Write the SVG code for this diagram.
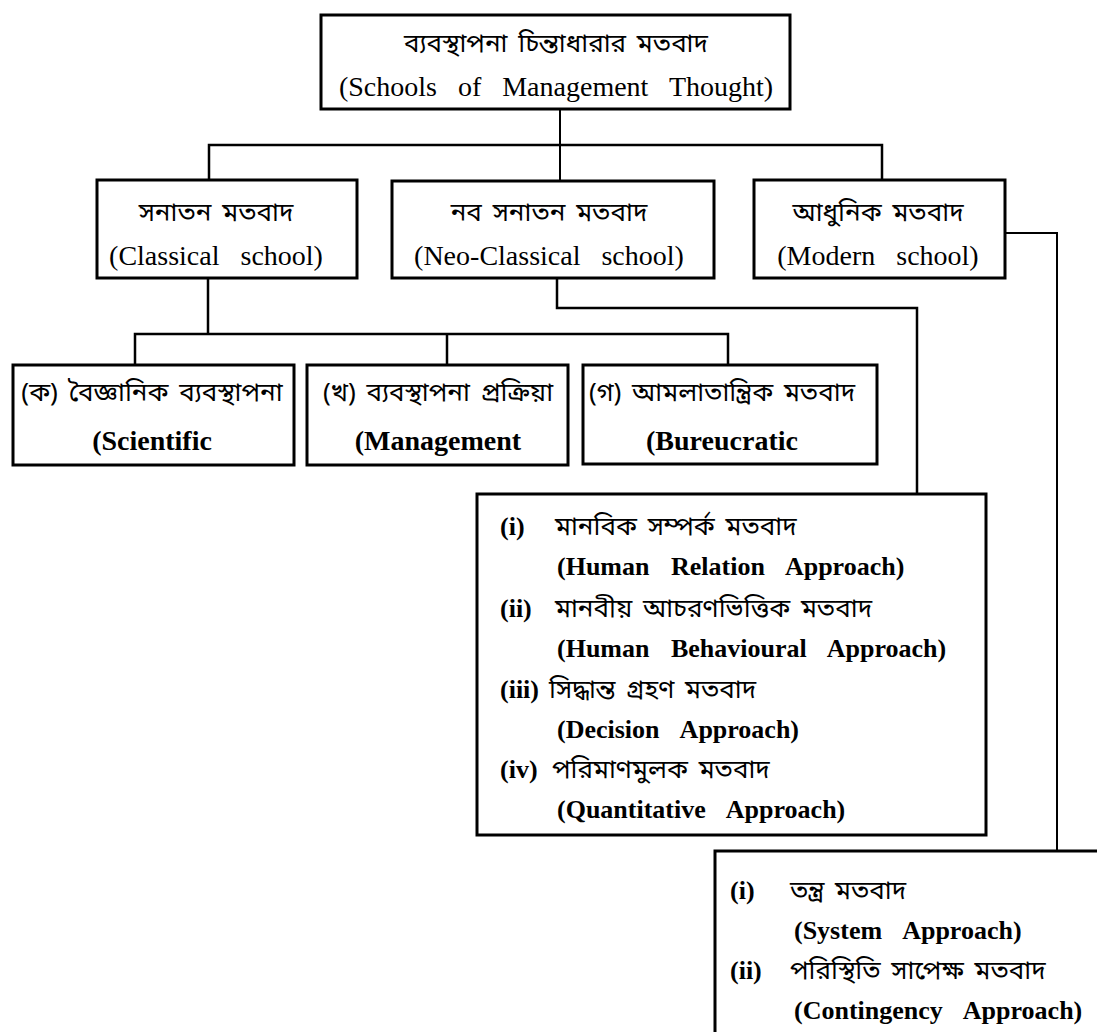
<svg xmlns="http://www.w3.org/2000/svg" width="1097" height="1032" viewBox="0 0 1097 1032">
<style>
.box{fill:#fff;stroke:#000;stroke-width:3}
.con{fill:none;stroke:#000;stroke-width:2.5;stroke-linejoin:miter}
.thin{stroke-width:2}
.bn{font-family:"Noto Sans Bengali","Noto Serif Bengali","Lohit Bengali","FreeSerif","Liberation Serif",serif;font-size:26px;word-spacing:4px;fill:#000}
.en{font-family:"Liberation Serif","Times New Roman",serif;font-size:28px;word-spacing:14px;fill:#000}
.b{font-weight:bold}
.ls{font-family:"Liberation Serif","Times New Roman",serif;font-size:26px;font-weight:bold;word-spacing:15px;fill:#000}
.m{text-anchor:middle}
</style>
<rect width="1097" height="1032" fill="#fff"/>
<g id="connectors">
<polyline class="con thin" points="560,109 560,181"/>
<polyline class="con" points="209,180 209,145 882,145 882,180"/>
<polyline class="con" points="208,278 208,334"/>
<polyline class="con" points="135,365 135,334 728,334 728,365"/>
<polyline class="con" points="447,334 447,365"/>
<polyline class="con" points="557,278 557,308 917,308 917,494"/>
<polyline class="con thin" points="1005,233 1057,233 1057,851"/>
</g>
<g id="root">
<rect class="box" x="321" y="15" width="469" height="94"/>
<text class="bn m" x="556" y="52">ব্যবস্থাপনা চিন্তাধারার মতবাদ</text>
<text class="en m" x="556" y="96">(Schools of Management Thought)</text>
</g>
<g id="classical">
<rect class="box" x="97" y="180" width="260" height="98"/>
<text class="bn m" x="216" y="221">সনাতন মতবাদ</text>
<text class="en m" x="216" y="265">(Classical school)</text>
</g>
<g id="neoclassical">
<rect class="box" x="392" y="181" width="322" height="97"/>
<text class="bn m" x="549" y="221">নব সনাতন মতবাদ</text>
<text class="en m" x="549" y="265">(Neo-Classical school)</text>
</g>
<g id="modern">
<rect class="box" x="754" y="180" width="251" height="98"/>
<text class="bn m" x="878" y="221">আধুনিক মতবাদ</text>
<text class="en m" x="878" y="265">(Modern school)</text>
</g>
<g id="scientific">
<rect class="box" x="13" y="365" width="281" height="100"/>
<text class="bn m" x="152" y="401">(ক) বৈজ্ঞানিক ব্যবস্থাপনা</text>
<text class="en b m" x="152" y="450">(Scientific</text>
</g>
<g id="process">
<rect class="box" x="307" y="365" width="261" height="100"/>
<text class="bn m" x="438" y="401">(খ) ব্যবস্থাপনা প্রক্রিয়া</text>
<text class="en b m" x="438" y="450">(Management</text>
</g>
<g id="bureaucratic">
<rect class="box" x="583" y="365" width="294" height="99"/>
<text class="bn m" x="722" y="401">(গ) আমলাতান্ত্রিক মতবাদ</text>
<text class="en b m" x="722" y="450">(Bureucratic</text>
</g>
<g id="neo-list">
<rect class="box" x="477" y="494" width="509" height="341"/>
<text class="ls" x="500" y="535">(i)</text>
<text class="bn" x="555" y="535">মানবিক সম্পর্ক মতবাদ</text>
<text class="ls" x="557" y="575">(Human Relation Approach)</text>
<text class="ls" x="500" y="617">(ii)</text>
<text class="bn" x="555" y="617">মানবীয় আচরণভিত্তিক মতবাদ</text>
<text class="ls" x="557" y="657">(Human Behavioural Approach)</text>
<text class="ls" x="500" y="698">(iii)</text>
<text class="bn" x="549" y="698">সিদ্ধান্ত গ্রহণ মতবাদ</text>
<text class="ls" x="557" y="738">(Decision Approach)</text>
<text class="ls" x="500" y="778">(iv)</text>
<text class="bn" x="552" y="778">পরিমাণমুলক মতবাদ</text>
<text class="ls" x="557" y="818">(Quantitative Approach)</text>
</g>
<g id="modern-list">
<rect class="box" x="715" y="851" width="400" height="200"/>
<text class="ls" x="730" y="899">(i)</text>
<text class="bn" x="790" y="899">তন্ত্র মতবাদ</text>
<text class="ls" x="794" y="939">(System Approach)</text>
<text class="ls" x="730" y="979">(ii)</text>
<text class="bn" x="790" y="979">পরিস্থিতি সাপেক্ষ মতবাদ</text>
<text class="ls" x="794" y="1019">(Contingency Approach)</text>
</g>
</svg>
